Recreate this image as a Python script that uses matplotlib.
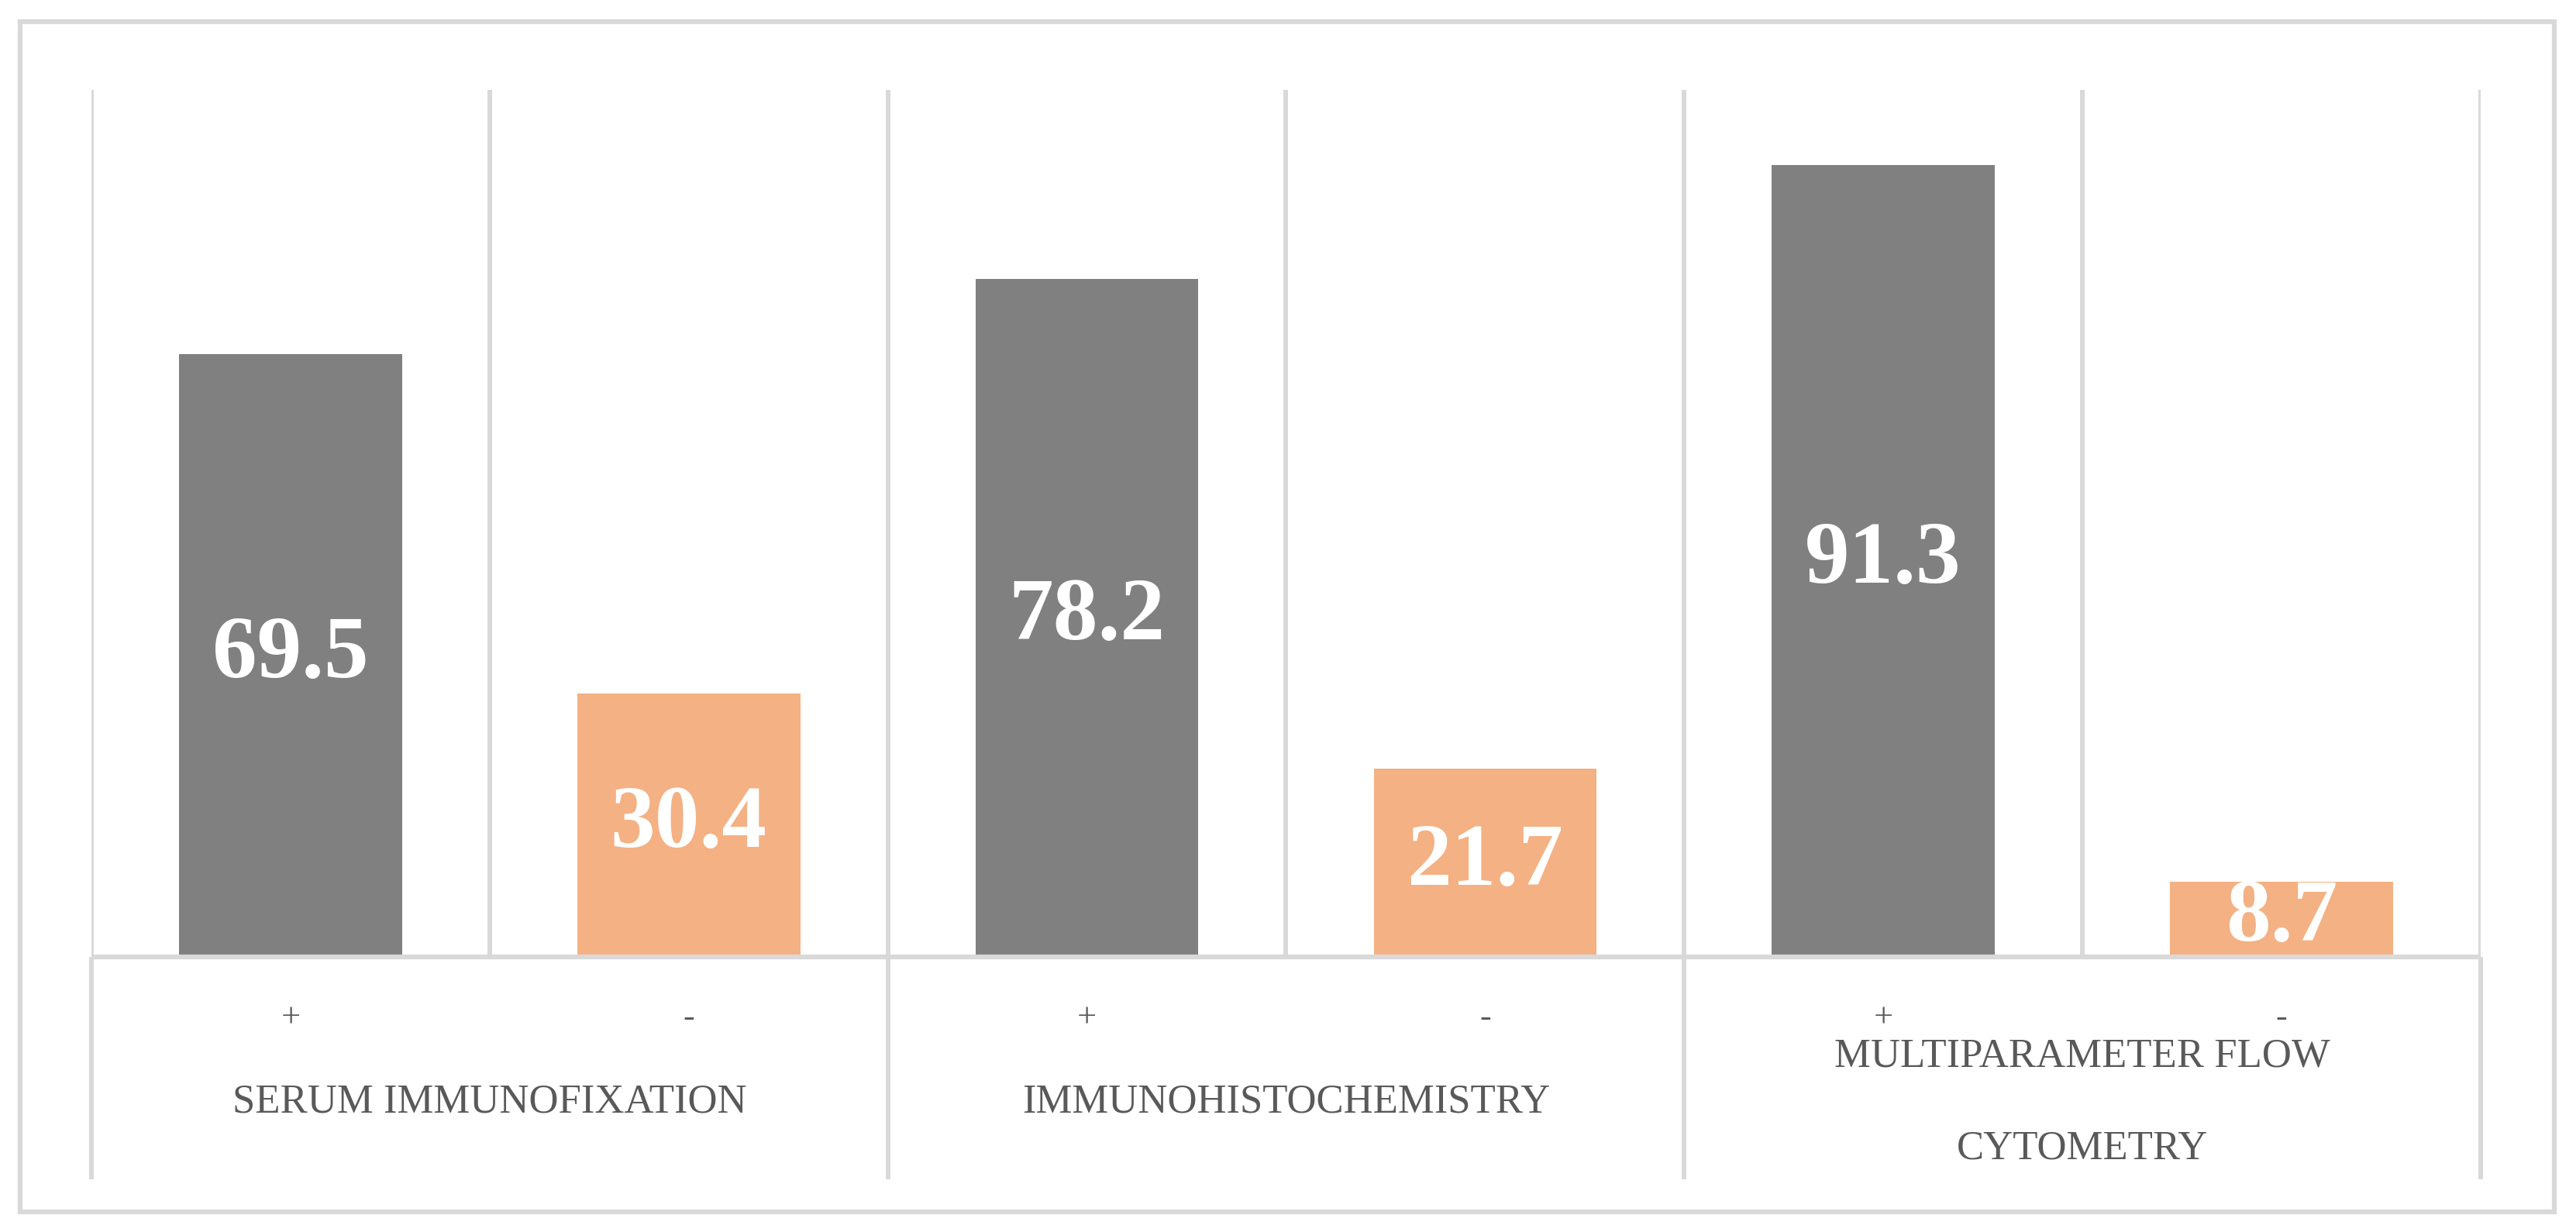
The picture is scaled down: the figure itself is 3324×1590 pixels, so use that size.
import matplotlib
matplotlib.use("Agg")
import matplotlib.pyplot as plt
from matplotlib.patches import Rectangle

# ---- data ----
groups = ["SERUM IMMUNOFIXATION", "IMMUNOHISTOCHEMISTRY", "MULTIPARAMETER FLOW\nCYTOMETRY"]
signs = ["+", "-"]
positive = [69.5, 78.2, 91.3]
negative = [30.4, 21.7, 8.7]

GRID = "#D9D9D9"
TXT = "#595959"
GREY = "#808080"
ORANGE = "#F4B183"

W, H = 3324, 1590
fig = plt.figure(figsize=(W / 100, H / 100), dpi=100)
fig.patch.set_facecolor("white")

# outer frame
fig.patches.append(Rectangle((26 / W, 1 - 1564 / H), (3296 - 26) / W, (1564 - 28) / H,
                             transform=fig.transFigure, fill=False, edgecolor=GRID,
                             linewidth=4.5, zorder=0))

ax = fig.add_axes([118 / W, 1 - 1235 / H, (3201 - 118) / W, (1235 - 116) / H])
ax.set_xlim(-0.5, 5.5)
ax.set_ylim(0, 100)
for s in ax.spines.values():
    s.set_visible(False)
ax.set_xticks([])
ax.set_yticks([])

values = []
colors = []
for p, n in zip(positive, negative):
    values += [p, n]
    colors += [GREY, ORANGE]
xs = list(range(len(values)))

# vertical gridlines at every slot boundary
for b in range(len(values) + 1):
    ax.plot([b - 0.5, b - 0.5], [0, 100], color=GRID, lw=4.3, zorder=1,
            solid_capstyle="butt")

bars = ax.bar(xs, values, width=0.56, color=colors, zorder=2)

# baseline
ax.plot([-0.5, 5.5], [0, 0], color=GRID, lw=4.5, zorder=3, solid_capstyle="butt",
        clip_on=False)

# value labels (centered in bar)
for x, v in zip(xs, values):
    ax.text(x, v / 2, f"{v:.1f}", ha="center", va="center", color="white",
            fontsize=83, fontweight="bold", family="Liberation Serif", zorder=4)

# multi-level category axis below
trans = ax.get_xaxis_transform()
for g in range(len(groups) + 1):
    xb = g * 2 - 0.5
    ax.plot([xb, xb], [0, -0.2565], color=GRID, lw=4.3, transform=trans,
            clip_on=False, solid_capstyle="butt", zorder=1)

for x in xs:
    ax.text(x, -0.071, signs[x % 2], transform=trans, ha="center", va="center",
            color=TXT, fontsize=32, family="Liberation Serif")

for i, g in enumerate(groups):
    ax.text(2 * i + 0.5, -0.168, g, transform=trans, ha="center", va="center",
            color=TXT, fontsize=38, family="Liberation Serif", linespacing=2.9)

fig.savefig("out.png", dpi=100, facecolor="white")
